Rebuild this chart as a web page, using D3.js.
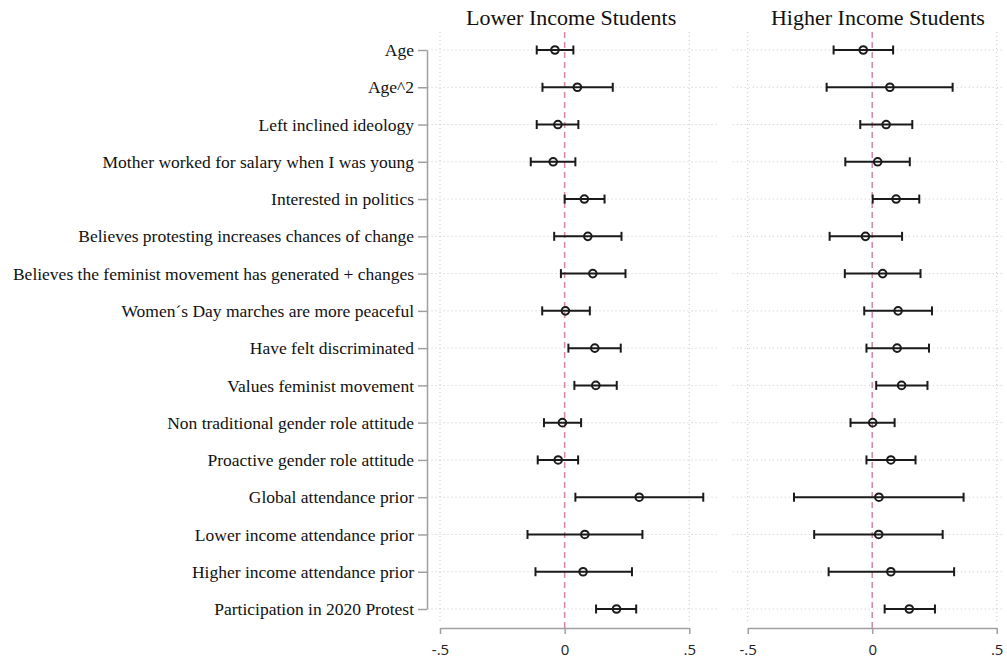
<!DOCTYPE html>
<html>
<head>
<meta charset="utf-8">
<script src="https://cdn.jsdelivr.net/npm/d3@7"></script>
<style>
  body { margin: 0; background: #fff; }
  svg { display: block; }
  .title { font-family: "Liberation Serif", "Times New Roman", serif; font-size: 22px; fill: #111; }
  .ylab { font-family: "Liberation Serif", "Times New Roman", serif; font-size: 17.5px; fill: #111; }
  .xtick text { font-family: "Open Sans", "DejaVu Sans", sans-serif; font-size: 15px; fill: #222; }
</style>
</head>
<body>
<div id="chart"></div>
<script>
var svgWidth = 1007;
var svgHeight = 661;

// variable names, top to bottom
var variables = [
  "Age",
  "Age^2",
  "Left inclined ideology",
  "Mother worked for salary when I was young",
  "Interested in politics",
  "Believes protesting increases chances of change",
  "Believes the feminist movement has generated + changes",
  "Women\u00b4s Day marches are more peaceful",
  "Have felt discriminated",
  "Values feminist movement",
  "Non traditional gender role attitude",
  "Proactive gender role attitude",
  "Global attendance prior",
  "Lower income attendance prior",
  "Higher income attendance prior",
  "Participation in 2020 Protest"
];

var panelTitles = ["Lower Income Students", "Higher Income Students"];
var xTicks = [-0.5, 0, 0.5];
var xTickLabels = ["-.5", "0", ".5"];

// lower income students: estimate, ci low, ci high
var lowCoef = [-0.039, 0.051, -0.027, -0.046, 0.079, 0.093, 0.113, 0.003, 0.121, 0.125, -0.009, -0.026, 0.299, 0.081, 0.074, 0.208];
var lowLo   = [-0.112, -0.089, -0.112, -0.136, 0.000, -0.042, -0.015, -0.090, 0.015, 0.039, -0.083, -0.108, 0.043, -0.149, -0.117, 0.126];
var lowHi   = [0.035, 0.193, 0.055, 0.043, 0.160, 0.228, 0.244, 0.101, 0.225, 0.209, 0.066, 0.054, 0.556, 0.312, 0.270, 0.287];

// higher income students
var highCoef = [-0.036, 0.071, 0.056, 0.022, 0.096, -0.027, 0.042, 0.104, 0.100, 0.118, 0.002, 0.075, 0.027, 0.026, 0.075, 0.149];
var highLo   = [-0.155, -0.183, -0.048, -0.108, 0.002, -0.171, -0.110, -0.032, -0.023, 0.016, -0.087, -0.023, -0.314, -0.233, -0.175, 0.050];
var highHi   = [0.084, 0.323, 0.161, 0.151, 0.189, 0.120, 0.194, 0.240, 0.228, 0.222, 0.090, 0.174, 0.367, 0.283, 0.329, 0.252];

var svg = d3.select("#chart")
  .append("svg")
  .attr("width", svgWidth)
  .attr("height", svgHeight);

// shared y scale (rows)
var yScale = d3.scalePoint()
  .domain(variables)
  .range([50, 609]);

var panels = [
  { title: panelTitles[0], coef: lowCoef, lo: lowLo, hi: lowHi,
    range: [440, 689.3], domain: [-0.55, 0.61], titleAt: 0.026, yAxis: true },
  { title: panelTitles[1], coef: highCoef, lo: highLo, hi: highHi,
    range: [747.7, 996.7], domain: [-0.56, 0.53], titleAt: 0.023, yAxis: false }
];

var gridColor = "#c8c8c8";
var axisColor = "#a0a0a0";

panels.forEach(function(p) {
  var x = d3.scaleLinear().domain([-0.5, 0.5]).range(p.range);
  var g = svg.append("g");

  // horizontal dotted grid per row
  g.selectAll(".hgrid")
    .data(variables)
    .enter()
    .append("line")
    .attr("x1", x(p.domain[0]))
    .attr("x2", x(p.domain[1]))
    .attr("y1", d => yScale(d))
    .attr("y2", d => yScale(d))
    .attr("stroke", gridColor)
    .attr("stroke-width", 1)
    .attr("stroke-dasharray", "1,3");

  // vertical dotted grid at ticks
  g.selectAll(".vgrid")
    .data(xTicks.filter(t => t !== 0))
    .enter()
    .append("line")
    .attr("x1", d => x(d))
    .attr("x2", d => x(d))
    .attr("y1", 32)
    .attr("y2", 622)
    .attr("stroke", gridColor)
    .attr("stroke-width", 1)
    .attr("stroke-dasharray", "1,3");

  // x axis
  var xAxis = d3.axisBottom(x)
    .tickValues(xTicks)
    .tickFormat((d, i) => xTickLabels[i])
    .tickSizeInner(6)
    .tickSizeOuter(0)
    .tickPadding(10);

  var ax = g.append("g")
    .attr("class", "xtick")
    .attr("transform", "translate(0,628)")
    .call(xAxis);
  ax.select(".domain").attr("stroke", axisColor).attr("stroke-width", 1.5);
  ax.selectAll(".tick line").attr("stroke", axisColor).attr("stroke-width", 1.5);

  // zero reference line
  g.append("line")
    .attr("x1", x(0))
    .attr("x2", x(0))
    .attr("y1", 32)
    .attr("y2", 628)
    .attr("stroke", "#d783ac")
    .attr("stroke-width", 1.5)
    .attr("stroke-dasharray", "6,4");

  // y axis for first panel only
  if (p.yAxis) {
    var yAxis = d3.axisLeft(yScale)
      .tickSizeInner(9)
      .tickSizeOuter(0)
      .tickPadding(4);
    var ay = g.append("g")
      .attr("transform", "translate(427,0)")
      .call(yAxis);
    ay.select(".domain").attr("stroke", axisColor).attr("stroke-width", 1.5);
    ay.selectAll(".tick line").attr("stroke", axisColor).attr("stroke-width", 1.5);
    ay.selectAll(".tick text").attr("class", "ylab").attr("fill", null);
  }

  // error bars
  var rows = variables.map((v, i) => ({ name: v, c: p.coef[i], lo: p.lo[i], hi: p.hi[i] }));

  g.selectAll(".ci")
    .data(rows)
    .enter()
    .append("line")
    .attr("x1", d => x(d.lo))
    .attr("x2", d => x(d.hi))
    .attr("y1", d => yScale(d.name))
    .attr("y2", d => yScale(d.name))
    .attr("stroke", "#1a1a1a")
    .attr("stroke-width", 2);

  ["lo", "hi"].forEach(function(k) {
    g.selectAll(".cap-" + k)
      .data(rows)
      .enter()
      .append("line")
      .attr("x1", d => x(d[k]))
      .attr("x2", d => x(d[k]))
      .attr("y1", d => yScale(d.name) - 4.5)
      .attr("y2", d => yScale(d.name) + 4.5)
      .attr("stroke", "#1a1a1a")
      .attr("stroke-width", 2);
  });

  g.selectAll(".pt")
    .data(rows)
    .enter()
    .append("circle")
    .attr("cx", d => x(d.c))
    .attr("cy", d => yScale(d.name))
    .attr("r", 3.8)
    .attr("fill", "none")
    .attr("stroke", "#1a1a1a")
    .attr("stroke-width", 2);

  // panel title
  svg.append("text")
    .attr("class", "title")
    .attr("x", x(p.titleAt))
    .attr("y", 25)
    .attr("text-anchor", "middle")
    .text(p.title);
});
</script>
</body>
</html>
